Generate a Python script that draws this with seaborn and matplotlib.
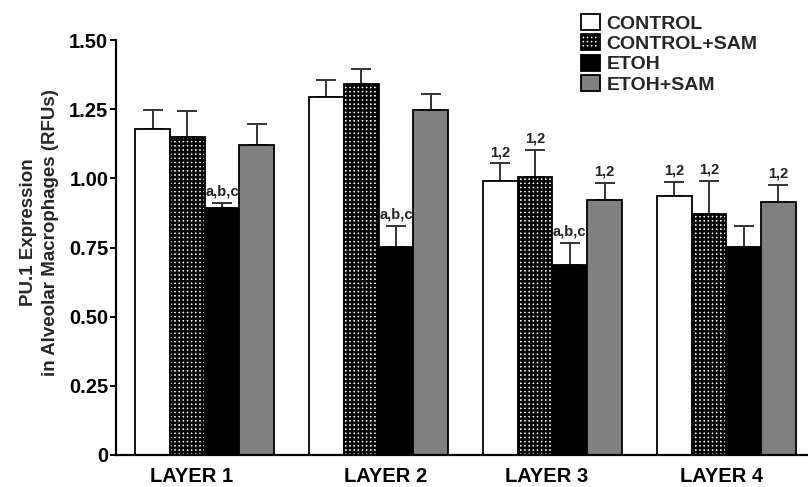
import numpy as np
import pandas as pd
import matplotlib
matplotlib.use("Agg")
import matplotlib.pyplot as plt
import matplotlib.transforms as mtransforms
import seaborn as sns

# Data: PU.1 expression (RFUs) per layer and treatment group, mean and upper SEM
layers = ["LAYER 1", "LAYER 2", "LAYER 3", "LAYER 4"]
groups = ["CONTROL", "CONTROL+SAM", "ETOH", "ETOH+SAM"]
control = [1.18, 1.295, 0.99, 0.935]
control_sam = [1.148, 1.342, 1.004, 0.870]
etoh = [0.892, 0.751, 0.685, 0.753]
etoh_sam = [1.121, 1.246, 0.922, 0.914]
control_err = [0.068, 0.062, 0.064, 0.053]
control_sam_err = [0.097, 0.053, 0.099, 0.122]
etoh_err = [0.020, 0.077, 0.082, 0.075]
etoh_sam_err = [0.076, 0.058, 0.061, 0.062]

# Significance labels above bars (group -> list per layer)
control_marks = ["", "", "1,2", "1,2"]
control_sam_marks = ["", "", "1,2", "1,2"]
etoh_marks = ["a,b,c", "a,b,c", "a,b,c", ""]
etoh_sam_marks = ["", "", "1,2", "1,2"]

ytick_values = [0, 0.25, 0.50, 0.75, 1.00, 1.25, 1.50]
ytick_labels = ["0", "0.25", "0.50", "0.75", "1.00", "1.25", "1.50"]

means = [control, control_sam, etoh, etoh_sam]
errs = [control_err, control_sam_err, etoh_err, etoh_sam_err]
marks = [control_marks, control_sam_marks, etoh_marks, etoh_sam_marks]

df = pd.DataFrame({
    "layer": np.repeat(layers, len(groups)),
    "group": groups * len(layers),
    "value": [means[g][l] for l in range(len(layers)) for g in range(len(groups))],
})

sns.set_theme(style="white")
plt.rcParams["font.family"] = ["Liberation Sans", "DejaVu Sans"]
plt.rcParams["font.weight"] = "bold"
plt.rcParams["hatch.linewidth"] = 1.8
plt.rcParams["hatch.color"] = "black"

fig = plt.figure(figsize=(8.08, 4.87), dpi=100)
ax = fig.add_axes([116 / 808, 1 - 455 / 487, 1 - 116 / 808, (455 - 40) / 487])

palette = {"CONTROL": "white", "CONTROL+SAM": "white", "ETOH": "black", "ETOH+SAM": "#808080"}
sns.barplot(data=df, x="layer", y="value", hue="group", order=layers, hue_order=groups,
            palette=palette, errorbar=None, width=0.8, saturation=1,
            edgecolor="black", linewidth=1.3, ax=ax, legend=False, zorder=2)

err_color = "#333333"
bar_containers = list(ax.containers)
for gi, cont in enumerate(bar_containers):
    for li, patch in enumerate(cont.patches):
        if groups[gi] == "CONTROL+SAM":
            patch.set_hatch("++++")
        xc = patch.get_x() + patch.get_width() / 2
        h = patch.get_height()
        e = errs[gi][li]
        ax.errorbar(xc, h, yerr=[[0], [e]], fmt="none", ecolor=err_color,
                    elinewidth=1.4, capsize=7, capthick=1.4, zorder=1)
        if marks[gi][li]:
            ax.annotate(marks[gi][li], (xc, h + e), xytext=(0, 3),
                        textcoords="offset points", ha="center", va="bottom",
                        fontsize=10.5, fontweight="bold", color="#222222")

ax.set_xlim(-0.51, 3.47)
ax.set_ylim(0, 1.5)
ax.set_yticks(ytick_values)
ax.set_yticklabels(ytick_labels)
ax.set_xlabel("")
ax.set_ylabel("PU.1 Expression\nin Alveolar Macrophages (RFUs)", fontsize=13.5,
              fontweight="bold", linespacing=1.35)
ax.yaxis.set_label_coords(-0.083, 0.537)

for side in ["top", "right"]:
    ax.spines[side].set_visible(False)
for side in ["left", "bottom"]:
    ax.spines[side].set_linewidth(1.6)
    ax.spines[side].set_color("black")

ax.tick_params(axis="y", which="major", left=True, length=4, width=1.4,
               color="black", pad=1.5, labelsize=14.5)
ax.tick_params(axis="x", which="major", bottom=False, length=0, pad=9, labelsize=14.5)
for lab in ax.get_xticklabels() + ax.get_yticklabels():
    lab.set_fontweight("bold")
    lab.set_color("black")

# Category labels sit slightly off the group centres
label_shifts = [-13, 7, -6, -5]
for lab, dx in zip(ax.get_xticklabels(), label_shifts):
    lab.set_transform(lab.get_transform() +
                      mtransforms.ScaledTranslation(dx / 100, 0, fig.dpi_scale_trans))

handles = [plt.Rectangle((0, 0), 1, 1, facecolor=palette[g], edgecolor="black",
                         linewidth=1.3, hatch="++++" if g == "CONTROL+SAM" else None)
           for g in groups]
fig.legend(handles, groups, loc="upper left", bbox_to_anchor=(581 / 808, 1 - 14 / 487),
           frameon=False, borderpad=0, borderaxespad=0, handlelength=1.0,
           handleheight=0.9, handletextpad=0.3, labelspacing=0.08,
           prop={"size": 14, "weight": "bold"})

fig.savefig("out.png", dpi=100)
